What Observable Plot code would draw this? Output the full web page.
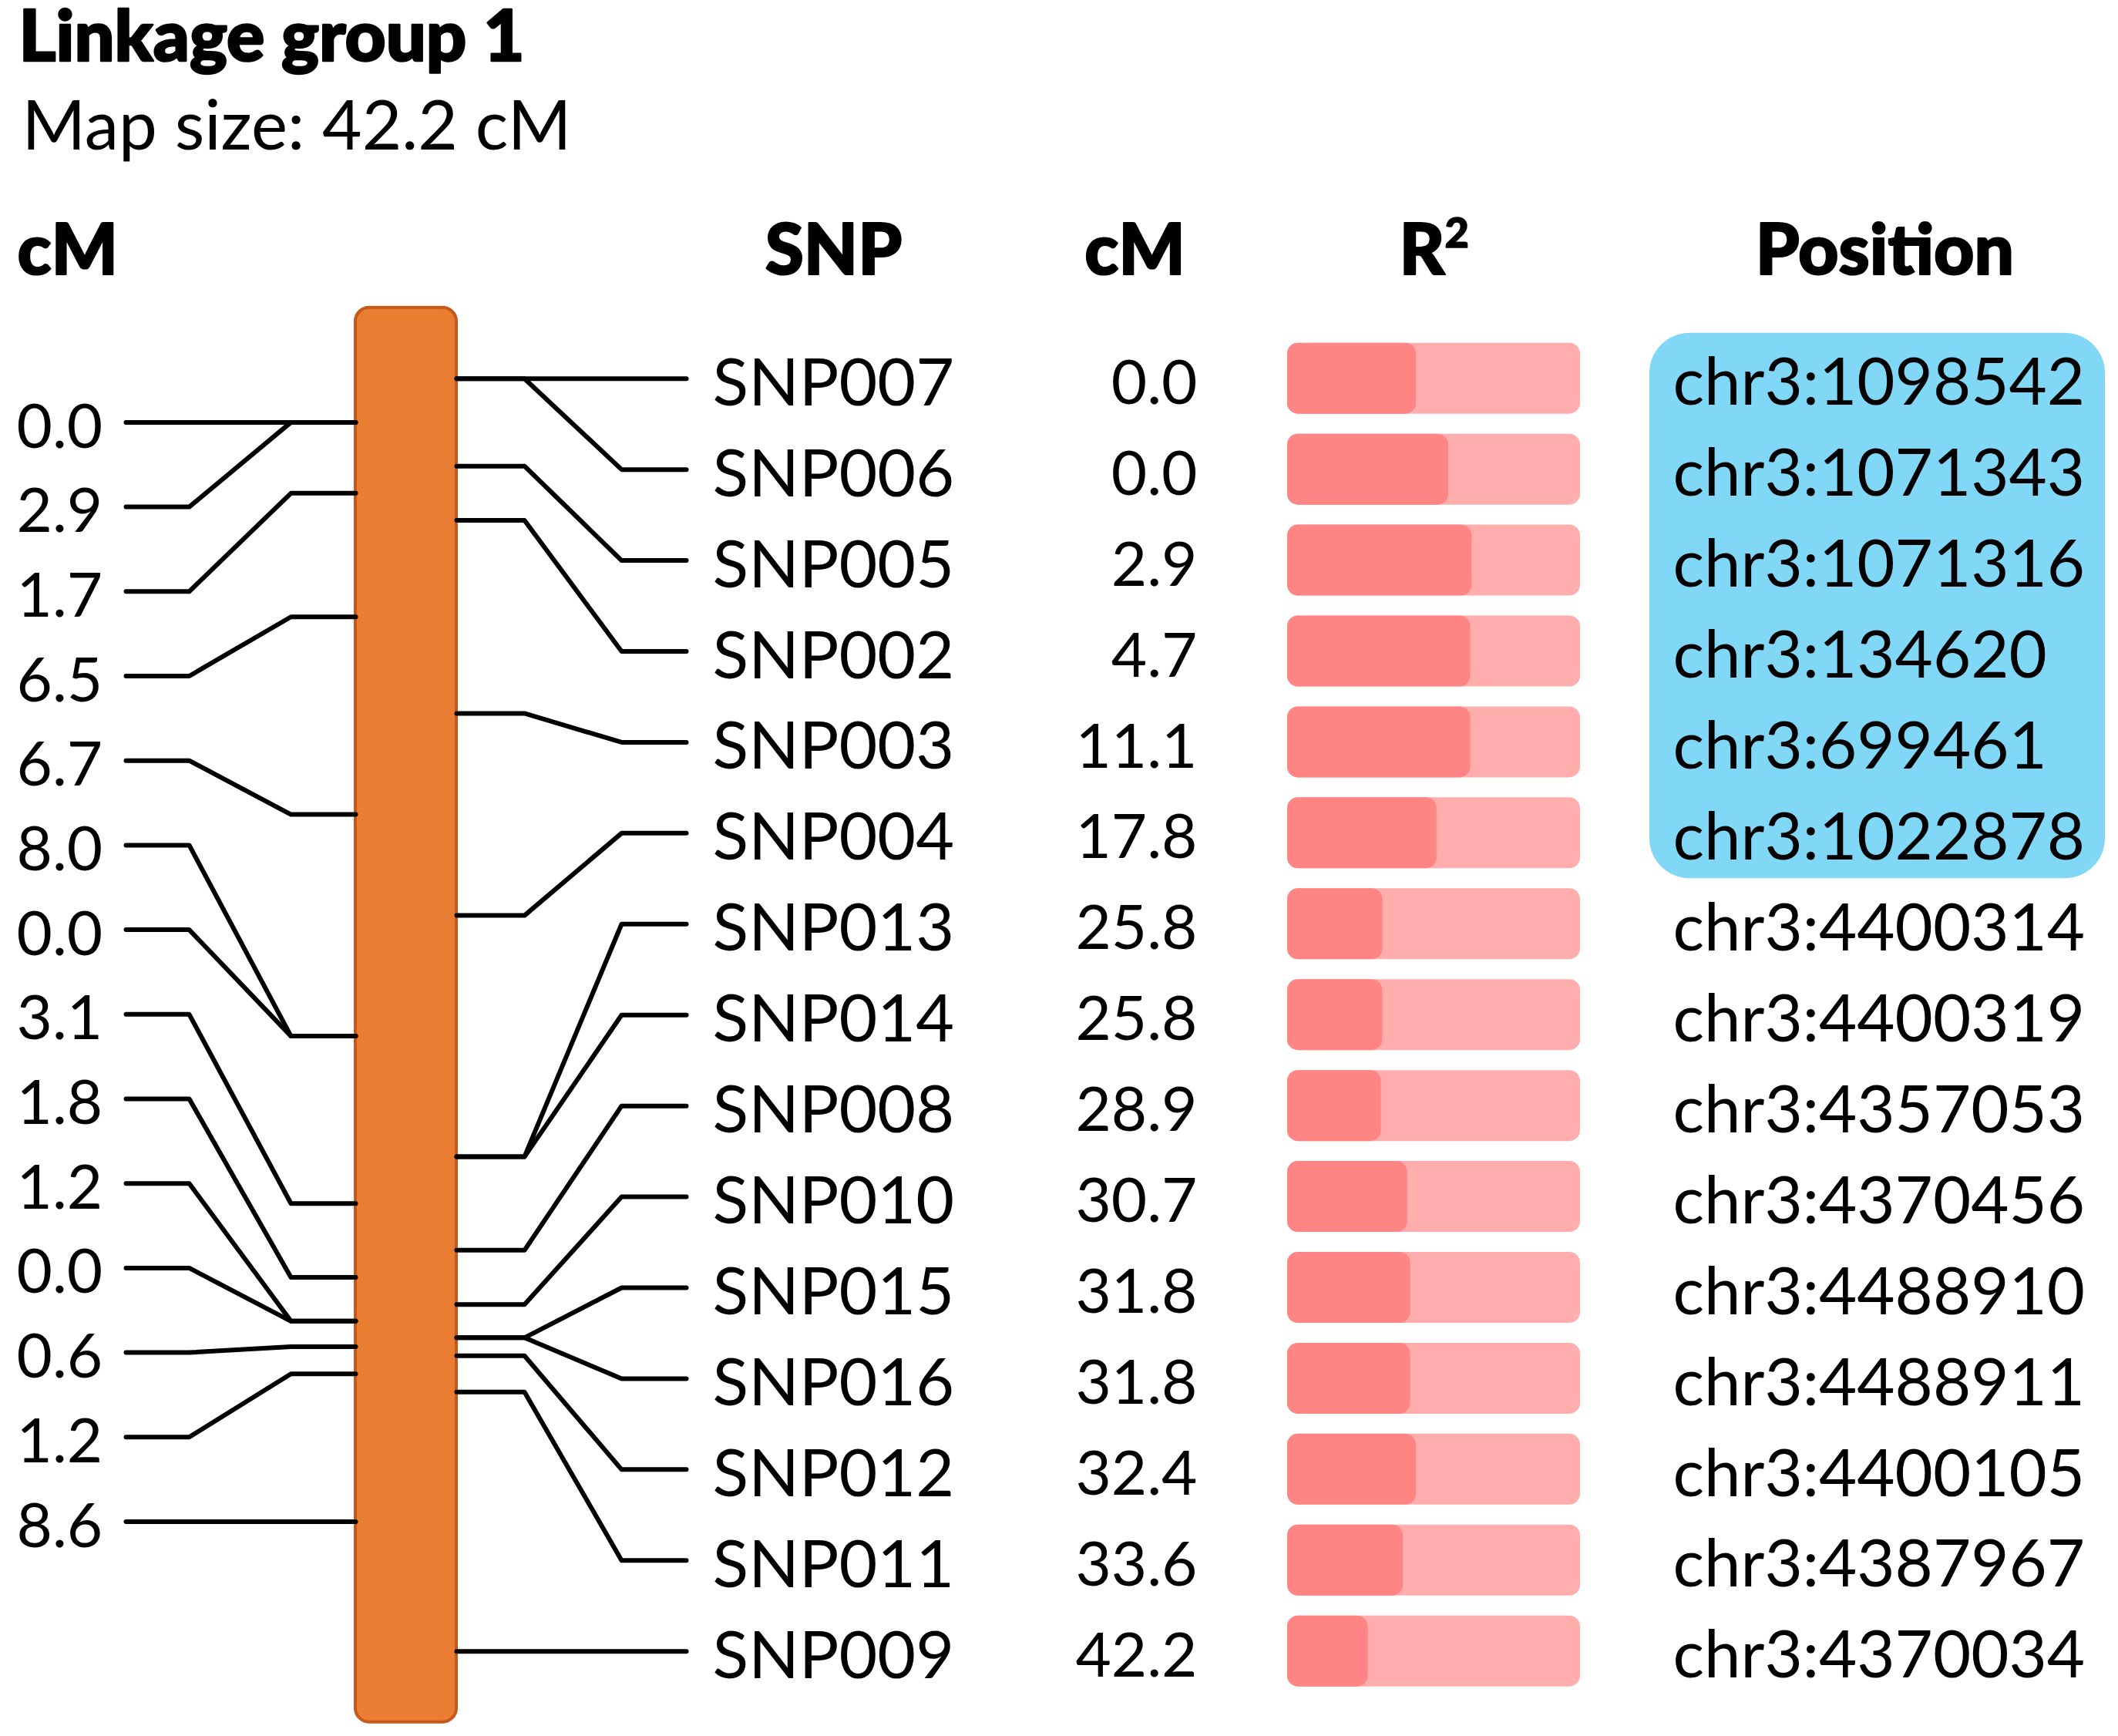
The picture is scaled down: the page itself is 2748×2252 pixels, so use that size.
<!DOCTYPE html>
<html>
<head>
<meta charset="utf-8">
<script src="https://cdn.jsdelivr.net/npm/d3@7"></script>
<script src="https://cdn.jsdelivr.net/npm/@observablehq/plot@0.6"></script>
<style>
  html, body { margin: 0; padding: 0; background: white; }
  svg { display: block; }
</style>
</head>
<body>
<div id="chart"></div>
<script>
// ---- data ----
const title = "Linkage group 1";
const subtitle = "Map size: 42.2 cM";
const headers = ["cM", "SNP", "cM", "R", "Position"];
const headerSup = "2";
const snps = ["SNP007","SNP006","SNP005","SNP002","SNP003","SNP004","SNP013","SNP014","SNP008","SNP010","SNP015","SNP016","SNP012","SNP011","SNP009"];
const cms = [0.0,0.0,2.9,4.7,11.1,17.8,25.8,25.8,28.9,30.7,31.8,31.8,32.4,33.6,42.2];
const r2 = [0.44,0.55,0.63,0.625,0.625,0.51,0.325,0.325,0.32,0.41,0.42,0.42,0.44,0.395,0.275];
const positions = ["chr3:1098542","chr3:1071343","chr3:1071316","chr3:134620","chr3:699461","chr3:1022878","chr3:4400314","chr3:4400319","chr3:4357053","chr3:4370456","chr3:4488910","chr3:4488911","chr3:4400105","chr3:4387967","chr3:4370034"];
const highlighted = [true,true,true,true,true,true,false,false,false,false,false,false,false,false,false];
const intervals = ["0.0","2.9","1.7","6.5","6.7","8.0","0.0","3.1","1.8","1.2","0.0","0.6","1.2","8.6"];

// ---- layout ----
const W = 2748, H = 2252;
const mapMax = d3.max(cms);
const n = snps.length;
const rowStep = mapMax / (n - 1);
const rowCM = snps.map((_, i) => i * rowStep);

// chromosome anchors for interval labels (midpoints of consecutive positions)
const mids = intervals.map((_, j) => (cms[j + 1] - cms[j]) > 0 ? (cms[j] + cms[j + 1]) / 2 : null);
const anchors = mids.map((m, j) => {
  if (m !== null) return m;
  for (let k = j - 1; k >= 0; k--) if (mids[k] !== null) return mids[k];
  for (let k = j + 1; k < mids.length; k++) if (mids[k] !== null) return mids[k];
  return cms[j];
});
const leftStep = (anchors[anchors.length - 1] - anchors[0]) / (anchors.length - 1);
const leftRowCM = anchors.map((_, j) => anchors[0] + j * leftStep);

const X = {chrL: 461, chrR: 592, rA: 680, rB: 806, rC: 890, snp: 924, cm: 1553,
           barL: 1670, barR: 2050, pos: 2170, boxL: 2140, boxR: 2731,
           lA: 163, lB: 245, lC: 377, lab: 21};
const chromPad = 2.35;
const r2x = d3.scaleLinear([0, 1], [X.barL, X.barR]);

const rows = snps.map((s, i) => ({s, cm: cms[i], r2: r2[i], pos: positions[i], row: rowCM[i], hl: highlighted[i]}));
const rightPaths = rows.flatMap((d, i) => [
  {x: X.chrR, y: d.cm, k: i}, {x: X.rA, y: d.cm, k: i}, {x: X.rB, y: d.row, k: i}, {x: X.rC, y: d.row, k: i}
]);
const leftRows = intervals.map((t, j) => ({t, row: leftRowCM[j], a: anchors[j]}));
const leftPaths = leftRows.flatMap((d, j) => [
  {x: X.lA, y: d.row, k: j}, {x: X.lB, y: d.row, k: j}, {x: X.lC, y: d.a, k: j}, {x: X.chrL, y: d.a, k: j}
]);
const hlRows = rows.filter(d => d.hl);
const hlBox = [{y1: hlRows[0].row - rowStep / 2, y2: hlRows[hlRows.length - 1].row + rowStep / 2}];

const FONT = "Lato, 'Noto Sans', sans-serif";
const txt = 80;
const heavy = {fontWeight: 900, fill: "black", stroke: "black", strokeWidth: 2.2};

const chart = Plot.plot({
  width: W, height: H,
  marginTop: 0, marginRight: 0, marginBottom: 0, marginLeft: 0,
  x: {domain: [0, W], axis: null},
  y: {domain: [0, mapMax], range: [490.7, 2141.7], axis: null},
  style: {fontFamily: FONT, background: "white", color: "black"},
  marks: [
    // titles and headers
    Plot.text([title], {x: 24, frameAnchor: "top", dy: 49, text: d => d, textAnchor: "start", lineAnchor: "middle", fontSize: 92, ...heavy, strokeWidth: 2.6}),
    Plot.text([subtitle], {x: 28, frameAnchor: "top", dy: 165, text: d => d, textAnchor: "start", lineAnchor: "middle", fontSize: 89, fill: "black"}),
    Plot.text([headers[0]], {x: 22, frameAnchor: "top", dy: 326, text: d => d, textAnchor: "start", lineAnchor: "middle", fontSize: 91, ...heavy}),
    Plot.text([headers[1], headers[2], headers[4]].map((h, i) => ({h, x: [1081, 1472, 2445][i]})), {x: "x", frameAnchor: "top", dy: 326, text: "h", textAnchor: "middle", lineAnchor: "middle", fontSize: 91, ...heavy}),
    Plot.text([headers[3]], {x: 1874, frameAnchor: "top", dy: 326, text: d => d, textAnchor: "end", lineAnchor: "middle", fontSize: 91, ...heavy}),
    Plot.text([headerSup], {x: 1874, frameAnchor: "top", dy: 303, text: d => d, textAnchor: "start", lineAnchor: "middle", fontSize: 54, ...heavy, strokeWidth: 1.5}),
    // highlight box
    Plot.rect(hlBox, {x1: X.boxL, x2: X.boxR, y1: "y1", y2: "y2", fill: "#80d7f6", rx: 52, ry: 52}),
    // chromosome
    Plot.rect([{y1: -chromPad, y2: mapMax + chromPad}], {x1: X.chrL, x2: X.chrR, y1: "y1", y2: "y2", fill: "#eb7d32", stroke: "#c5581c", strokeWidth: 4, rx: 18, ry: 18}),
    // connectors
    Plot.line(rightPaths, {x: "x", y: "y", z: "k", stroke: "black", strokeWidth: 6, curve: "linear"}),
    Plot.line(leftPaths, {x: "x", y: "y", z: "k", stroke: "black", strokeWidth: 6, curve: "linear"}),
    // left interval labels
    Plot.text(leftRows, {x: X.lab, y: "row", text: "t", textAnchor: "start", lineAnchor: "middle", dy: 7, fontSize: txt, fill: "black"}),
    // SNP labels
    Plot.text(rows, {x: X.snp, y: "row", text: "s", textAnchor: "start", lineAnchor: "middle", dy: 7, fontSize: 86, fill: "black"}),
    // cM values
    Plot.text(rows, {x: X.cm, y: "row", text: d => d.cm.toFixed(1), textAnchor: "end", lineAnchor: "middle", dy: 7, fontSize: txt, fill: "black"}),
    // R2 bars
    Plot.rect(rows, {x1: X.barL, x2: X.barR, y1: "row", y2: "row", insetTop: -46, insetBottom: -46, fill: "#ffadad", rx: 14, ry: 14}),
    Plot.rect(rows, {x1: X.barL, x2: d => r2x(d.r2), y1: "row", y2: "row", insetTop: -46, insetBottom: -46, fill: "#ff8585", rx: 14, ry: 14}),
    // positions
    Plot.text(rows, {x: X.pos, y: "row", text: "pos", textAnchor: "start", lineAnchor: "middle", dy: 7, fontSize: 85, fill: "black"})
  ]
});
document.getElementById("chart").appendChild(chart);
</script>
</body>
</html>
